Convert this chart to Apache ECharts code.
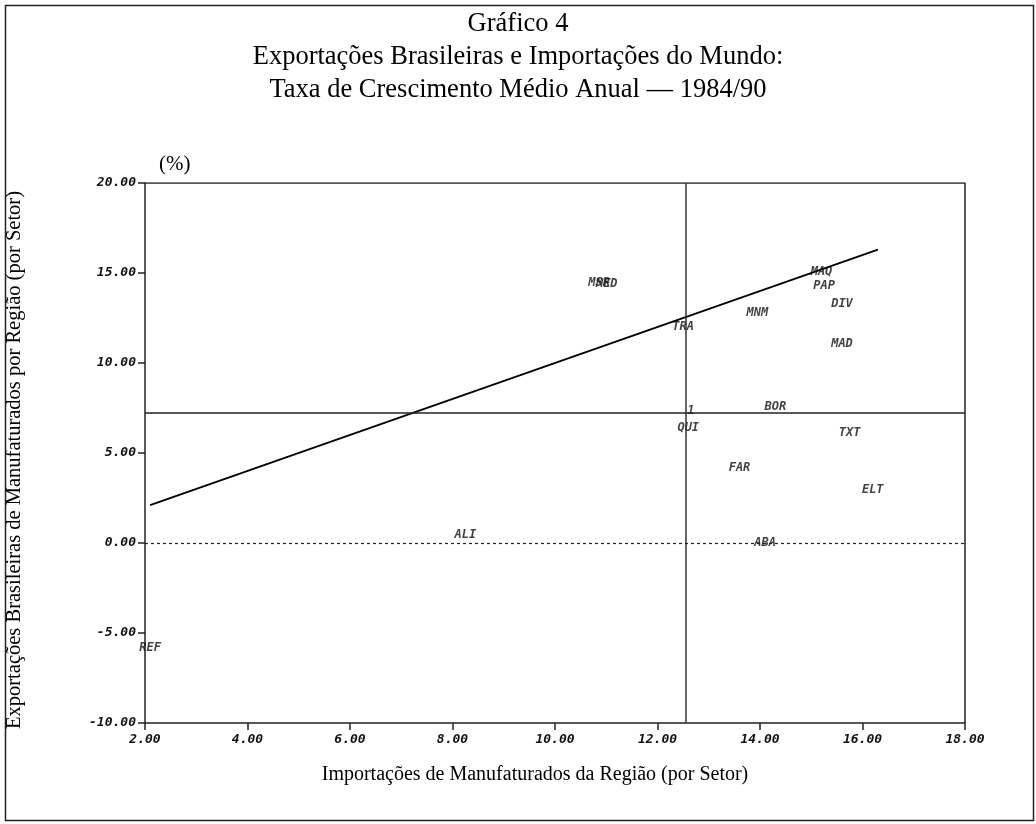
<!DOCTYPE html>
<html>
<head>
<meta charset="utf-8">
<script src="https://cdn.jsdelivr.net/npm/echarts@6/dist/echarts.min.js"></script>
<style>
    html, body { margin: 0; padding: 0; background: #fff; }
    #chart { width: 1036px; height: 824px; }
</style>
</head>
<body>
<div id="chart"></div>
<script>
    // setores: sigla, importações (x), exportações (y)
    const setores = ['MSR', 'MED', 'MAQ', 'PAP', 'DIV', 'MNM', 'TRA', 'MAD', 'BOR', '1', 'QUI', 'TXT', 'FAR', 'ELT', 'ABA', 'ALI', 'REF'];
    const importacoes = [10.86, 11.01, 15.2, 15.25, 15.6, 13.95, 12.5, 15.6, 14.3, 12.65, 12.6, 15.75, 13.6, 16.2, 14.1, 8.25, 2.1];
    const exportacoes = [14.45, 14.4, 15.05, 14.3, 13.3, 12.8, 12.0, 11.05, 7.55, 7.35, 6.4, 6.1, 4.15, 2.95, 0.0, 0.45, -5.8];
    const mediaX = 12.56;
    const mediaY = 7.22;
    const retaX = [2.1, 16.3];
    const retaY = [2.1, 16.3];
    const xTicks = [2, 4, 6, 8, 10, 12, 14, 16, 18];
    const yTicks = [-10, -5, 0, 5, 10, 15, 20];

    const chart = echarts.init(document.getElementById('chart'));
    const tickFont = { fontFamily: 'DejaVu Sans Mono', fontStyle: 'italic', fontWeight: 'bold', fontSize: 13, color: '#111' };

    chart.setOption({
        backgroundColor: '#fff',
        animation: false,
        title: [
            {
                text: 'Gráfico 4\nExportações Brasileiras e Importações do Mundo:\nTaxa de Crescimento Médio Anual — 1984/90',
                left: 'center', top: 3,
                textStyle: { fontFamily: 'Liberation Serif', fontWeight: 'normal', fontSize: 26.5, lineHeight: 33, color: '#000' }
            },
            {
                text: '(%)', left: 154, top: 149,
                textStyle: { fontFamily: 'Liberation Serif', fontWeight: 'normal', fontSize: 21, color: '#000' }
            }
        ],
        graphic: [
            {
                type: 'rect', left: 3, top: 3,
                shape: { width: 1028, height: 815 },
                style: { fill: 'none', stroke: '#222', lineWidth: 1.5 }
            },
            {
                // nome do eixo x
                type: 'text', x: 535, y: 775,
                style: {
                    text: 'Importações de Manufaturados da Região (por Setor)',
                    font: '20px "Liberation Serif"', fill: '#000',
                    align: 'center', verticalAlign: 'middle'
                }
            },
            {
                // nome do eixo y
                type: 'text', x: 15, y: 460, rotation: Math.PI / 2,
                style: {
                    text: 'Exportações Brasileiras de Manufaturados por Região (por Setor)',
                    font: '20.5px "Liberation Serif"', fill: '#000',
                    align: 'center', verticalAlign: 'middle'
                }
            }
        ],
        grid: { left: 145, top: 183, right: 71, bottom: 101 },
        xAxis: {
            type: 'value', min: 2, max: 18, interval: 2,
            axisLine: { show: true, onZero: false, lineStyle: { color: '#222', width: 1.5 } },
            axisTick: { show: true, length: 7, lineStyle: { color: '#222', width: 1.5 } },
            axisLabel: Object.assign({ margin: 10, formatter: v => xTicks.includes(v) ? v.toFixed(2) : '' }, tickFont),
            splitLine: { show: false }
        },
        yAxis: {
            type: 'value', min: -10, max: 20, interval: 5,
            axisLine: { show: true, onZero: false, lineStyle: { color: '#222', width: 1.5 } },
            axisTick: { show: true, length: 7, lineStyle: { color: '#222', width: 1.5 } },
            axisLabel: Object.assign({ margin: 9, formatter: v => yTicks.includes(v) ? v.toFixed(2) : '' }, tickFont),
            splitLine: { show: false }
        },
        series: [
            {
                // moldura superior e direita
                type: 'line', silent: true, symbol: 'none',
                data: [[2, 20], [18, 20], [18, -10]],
                lineStyle: { color: '#222', width: 1.5 }
            },
            {
                type: 'line', silent: true, symbol: 'none',
                data: retaX.map((x, i) => [x, retaY[i]]),
                lineStyle: { color: '#000', width: 1.8 },
                markLine: {
                    silent: true, symbol: 'none', label: { show: false },
                    data: [
                        { xAxis: mediaX, lineStyle: { color: '#333', width: 1.5, type: 'solid' } },
                        { yAxis: mediaY, lineStyle: { color: '#222', width: 1.5, type: 'solid' } },
                        { yAxis: 0, lineStyle: { color: '#222', width: 1.2, type: [3, 3] } }
                    ]
                }
            },
            {
                type: 'scatter', symbolSize: 0,
                data: setores.map((s, i) => ({ name: s, value: [importacoes[i], exportacoes[i]] })),
                label: {
                    show: true, position: 'inside',
                    formatter: p => p.name,
                    fontFamily: 'DejaVu Sans Mono', fontStyle: 'italic', fontWeight: 'bold', fontSize: 12, color: '#111'
                }
            }
        ]
    });
</script>
</body>
</html>
